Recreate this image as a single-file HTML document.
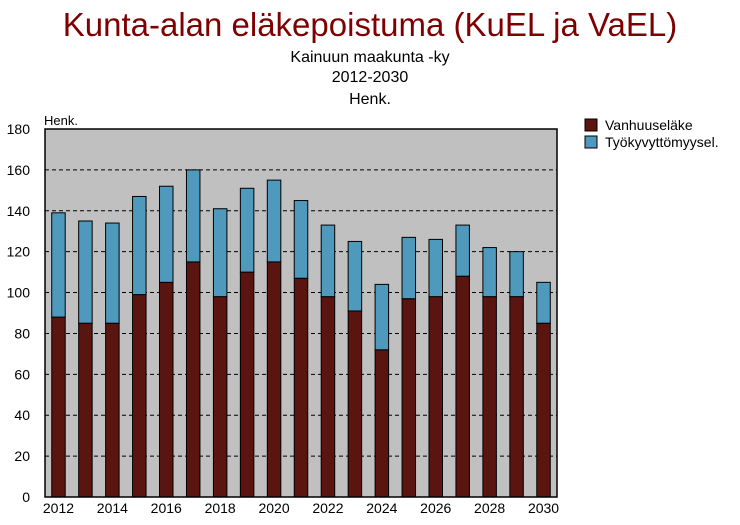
<!DOCTYPE html>
<html><head><meta charset="utf-8"><style>
body{margin:0;background:#fff;font-family:"Liberation Sans",sans-serif}
svg text{font-family:"Liberation Sans",sans-serif}
</style></head><body>
<svg width="740" height="520" xmlns="http://www.w3.org/2000/svg">
<text x="370" y="36" text-anchor="middle" font-size="33" fill="#7f0000">Kunta-alan eläkepoistuma (KuEL ja VaEL)</text>
<text x="370" y="62" text-anchor="middle" font-size="16">Kainuun maakunta -ky</text>
<text x="370" y="82" text-anchor="middle" font-size="16">2012-2030</text>
<text x="370" y="104" text-anchor="middle" font-size="16">Henk.</text>
<rect x="45" y="129" width="512" height="368" fill="#c0c0c0"/>
<g id="grid"></g><g id="bars"></g><g id="axes"></g>
<rect x="45" y="129" width="512" height="368" fill="none" stroke="#000" stroke-width="1.5"/>
<text x="44" y="125" font-size="13">Henk.</text>
<rect x="585" y="119" width="12" height="12" fill="#5a1510" stroke="#000"/>
<text x="605" y="130" font-size="14">Vanhuuseläke</text>
<rect x="585" y="136" width="12" height="12" fill="#4f99bd" stroke="#000"/>
<text x="605" y="147" font-size="14">Työkyvyttömyysel.</text>
</svg>
<script>
const years=[2012,2013,2014,2015,2016,2017,2018,2019,2020,2021,2022,2023,2024,2025,2026,2027,2028,2029,2030];
const vanhuus=[88,85,85,99,105,115,98,110,115,107,98,91,72,97,98,108,98,98,85];
const tyokyvyttomyys=[51,50,49,48,47,45,43,41,40,38,35,34,32,30,28,25,24,22,20];
const yTicks=[0,20,40,60,80,100,120,140,160,180];
const NS="http://www.w3.org/2000/svg";
const X0=45,W=512,Y0=497,H=368,YMAX=180;
const slot=W/years.length,bw=13.5;
const y=v=>Y0-v/YMAX*H;
const xc=i=>X0+slot*(i+0.5);
function mk(t,a,p){const e=document.createElementNS(NS,t);for(const k in a)e.setAttribute(k,a[k]);p.appendChild(e);return e;}
const grid=document.getElementById('grid'),bars=document.getElementById('bars'),axes=document.getElementById('axes');
yTicks.forEach(v=>{
 if(v>0&&v<YMAX){const l=mk('line',{x1:X0,x2:X0+W,y1:y(v),y2:y(v),stroke:'#000','stroke-dasharray':'4,3','stroke-width':1},grid);
 
 }
 const t=mk('text',{x:30,y:y(v)+5,'text-anchor':'end','font-size':14},axes);t.textContent=v;
 
 
});
years.forEach((yr,i)=>{
 const a=vanhuus[i],b=tyokyvyttomyys[i];
 const r1=mk('rect',{x:xc(i)-bw/2,y:y(a),width:bw,height:Y0-y(a),fill:'#5a1510',stroke:'#000','stroke-width':1},bars);
 
 
 const r2=mk('rect',{x:xc(i)-bw/2,y:y(a+b),width:bw,height:y(a)-y(a+b),fill:'#4f99bd',stroke:'#000','stroke-width':1},bars);
 
 
 if(i%2===0){const t=mk('text',{x:xc(i),y:513,'text-anchor':'middle','font-size':14},axes);t.textContent=yr;
 
 }
});
</script>
</body></html>
